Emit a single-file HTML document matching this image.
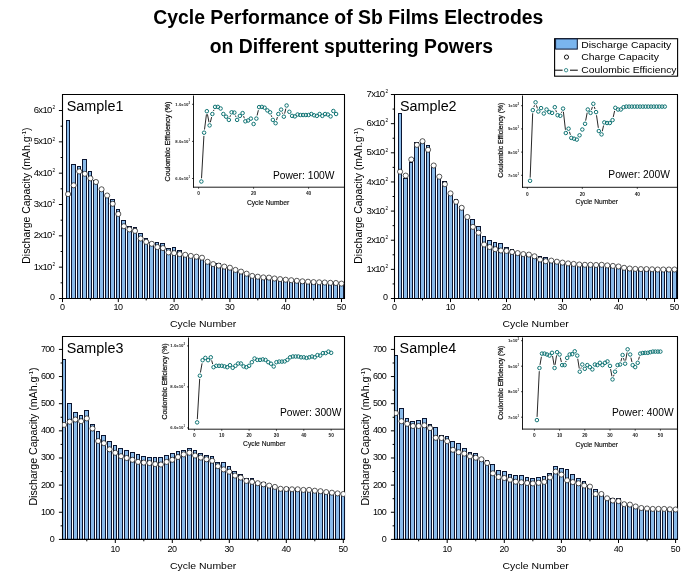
<!DOCTYPE html>
<html lang="en"><head><meta charset="utf-8"><title>Cycle Performance of Sb Films Electrodes</title>
<style>html,body{margin:0;padding:0;background:#fff}svg{display:block}text{font-family:'Liberation Sans', Arial, sans-serif}</style></head><body>
<svg width="698" height="579" viewBox="0 0 698 579">
<rect width="698" height="579" fill="#fff"/>
<text x="348.3" y="23.7" font-size="19.4" text-anchor="middle" font-weight="bold" fill="#000">Cycle Performance of Sb Films Electrodes</text>
<text x="351.4" y="52.6" font-size="19.4" text-anchor="middle" font-weight="bold" fill="#000">on Different sputtering Powers</text>
<rect x="554.6" y="38.7" width="123" height="37.5" fill="#fff" stroke="#000" stroke-width="1.1"/>
<rect x="555.6" y="38.9" width="21.7" height="10.2" fill="#7ab5ee" stroke="#0b1530" stroke-width="1"/>
<text x="581.3" y="47.8" font-size="9.9" text-anchor="start" font-weight="normal" fill="#000" textLength="90" lengthAdjust="spacingAndGlyphs">Discharge Capacity</text>
<text x="581.3" y="59.8" font-size="9.9" text-anchor="start" font-weight="normal" fill="#000" textLength="77.6" lengthAdjust="spacingAndGlyphs">Charge Capacity</text>
<text x="581.3" y="72.5" font-size="9.9" text-anchor="start" font-weight="normal" fill="#000" textLength="95.2" lengthAdjust="spacingAndGlyphs">Coulombic Efficiency</text>
<circle cx="566.5" cy="57.1" r="2.1" fill="#fff" stroke="#000" stroke-width="0.9"/>
<line x1="554.6" y1="70.2" x2="562.6" y2="70.2" stroke="#000" stroke-width="1.0"/>
<line x1="570" y1="70.2" x2="577.8" y2="70.2" stroke="#000" stroke-width="1.0"/>
<circle cx="566.1" cy="70.2" r="1.7" fill="#fff" stroke="#0e7373" stroke-width="0.8"/>
<clipPath id="clip1"><rect x="62.5" y="94.5" width="282.6" height="204"/></clipPath>
<line x1="62" y1="94.5" x2="345" y2="94.5" stroke="#000" stroke-width="1.1"/>
<line x1="344.5" y1="94.5" x2="344.5" y2="299" stroke="#000" stroke-width="1.1"/>
<g clip-path="url(#clip1)" shape-rendering="crispEdges">
<path d="M66 120H70V298H66ZM71 164H76V298H71ZM77 166H81V298H77ZM82 159H87V298H82ZM88 171H92V298H88ZM93 180H98V298H93ZM99 188H104V298H99ZM105 194H109V298H105ZM110 199H115V298H110ZM116 209H120V298H116ZM121 220H126V298H121ZM127 226H132V298H127ZM133 227H137V298H133ZM138 233H143V298H138ZM144 238H148V298H144ZM149 242H154V298H149ZM155 242H159V298H155ZM160 243H165V298H160ZM166 248H171V298H166ZM172 247H176V298H172ZM177 250H182V298H177ZM183 254H187V298H183ZM188 255H193V298H188ZM194 256H199V298H194ZM200 257H204V298H200ZM205 261H210V298H205ZM211 264H215V298H211ZM216 263H221V298H216ZM222 266H226V298H222ZM227 267H232V298H227ZM233 269H238V298H233ZM239 271H243V298H239ZM244 273H249V298H244ZM250 275H254V298H250ZM255 276H260V298H255ZM261 277H265V298H261ZM266 277H271V298H266ZM272 278H277V298H272ZM278 279H282V298H278ZM283 279H288V298H283ZM289 280H293V298H289ZM294 280H299V298H294ZM300 281H305V298H300ZM306 281H310V298H306ZM311 282H316V298H311ZM317 282H321V298H317ZM322 282H327V298H322ZM328 282H332V298H328ZM333 282H338V298H333ZM339 283H344V298H339Z" fill="#0b1530"/>
<path d="M67 121H69V298H67ZM72 165H75V298H72ZM78 167H80V298H78ZM83 160H86V298H83ZM89 172H91V298H89ZM94 181H97V298H94ZM100 189H103V298H100ZM106 195H108V298H106ZM111 200H114V298H111ZM117 210H119V298H117ZM122 221H125V298H122ZM128 227H131V298H128ZM134 228H136V298H134ZM139 234H142V298H139ZM145 239H147V298H145ZM150 243H153V298H150ZM156 243H158V298H156ZM161 244H164V298H161ZM167 249H170V298H167ZM173 248H175V298H173ZM178 251H181V298H178ZM184 255H186V298H184ZM189 256H192V298H189ZM195 257H198V298H195ZM201 258H203V298H201ZM206 262H209V298H206ZM212 265H214V298H212ZM217 264H220V298H217ZM223 267H225V298H223ZM228 268H231V298H228ZM234 270H237V298H234ZM240 272H242V298H240ZM245 274H248V298H245ZM251 276H253V298H251ZM256 277H259V298H256ZM262 278H264V298H262ZM267 278H270V298H267ZM273 279H276V298H273ZM279 280H281V298H279ZM284 280H287V298H284ZM290 281H292V298H290ZM295 281H298V298H295ZM301 282H304V298H301ZM307 282H309V298H307ZM312 283H315V298H312ZM318 283H320V298H318ZM323 283H326V298H323ZM329 283H331V298H329ZM334 283H337V298H334ZM340 284H343V298H340Z" fill="#8abbea"/>
</g>
<line x1="62.5" y1="94" x2="62.5" y2="299" stroke="#000" stroke-width="1.1"/>
<line x1="62" y1="298.5" x2="345" y2="298.5" stroke="#000" stroke-width="1.1"/>
<g clip-path="url(#clip1)" fill="#fff" stroke="#000" stroke-width="0.65">
<circle cx="68.08" cy="194.1" r="2.55"/>
<circle cx="73.66" cy="185.3" r="2.55"/>
<circle cx="79.24" cy="171.4" r="2.55"/>
<circle cx="84.82" cy="173.8" r="2.55"/>
<circle cx="90.4" cy="178.3" r="2.55"/>
<circle cx="95.98" cy="182" r="2.55"/>
<circle cx="101.56" cy="189.3" r="2.55"/>
<circle cx="107.14" cy="195.5" r="2.55"/>
<circle cx="112.72" cy="203.8" r="2.55"/>
<circle cx="118.3" cy="214" r="2.55"/>
<circle cx="123.88" cy="226.2" r="2.55"/>
<circle cx="129.46" cy="229.4" r="2.55"/>
<circle cx="135.04" cy="230.9" r="2.55"/>
<circle cx="140.62" cy="238.5" r="2.55"/>
<circle cx="146.2" cy="241.9" r="2.55"/>
<circle cx="151.78" cy="243.8" r="2.55"/>
<circle cx="157.36" cy="247.1" r="2.55"/>
<circle cx="162.94" cy="248.1" r="2.55"/>
<circle cx="168.52" cy="252.4" r="2.55"/>
<circle cx="174.1" cy="253.1" r="2.55"/>
<circle cx="179.68" cy="254.1" r="2.55"/>
<circle cx="185.26" cy="254.8" r="2.55"/>
<circle cx="190.84" cy="255.9" r="2.55"/>
<circle cx="196.42" cy="256.7" r="2.55"/>
<circle cx="202" cy="257.7" r="2.55"/>
<circle cx="207.58" cy="261.8" r="2.55"/>
<circle cx="213.16" cy="264.1" r="2.55"/>
<circle cx="218.74" cy="265.6" r="2.55"/>
<circle cx="224.32" cy="266.6" r="2.55"/>
<circle cx="229.9" cy="267.7" r="2.55"/>
<circle cx="235.48" cy="269.9" r="2.55"/>
<circle cx="241.06" cy="271.6" r="2.55"/>
<circle cx="246.64" cy="273.7" r="2.55"/>
<circle cx="252.22" cy="275.9" r="2.55"/>
<circle cx="257.8" cy="276.7" r="2.55"/>
<circle cx="263.38" cy="277.4" r="2.55"/>
<circle cx="268.96" cy="277.6" r="2.55"/>
<circle cx="274.54" cy="278.5" r="2.55"/>
<circle cx="280.12" cy="279.1" r="2.55"/>
<circle cx="285.7" cy="279.7" r="2.55"/>
<circle cx="291.28" cy="280.2" r="2.55"/>
<circle cx="296.86" cy="280.8" r="2.55"/>
<circle cx="302.44" cy="281.3" r="2.55"/>
<circle cx="308.02" cy="281.7" r="2.55"/>
<circle cx="313.6" cy="282.1" r="2.55"/>
<circle cx="319.18" cy="282.3" r="2.55"/>
<circle cx="324.76" cy="282.5" r="2.55"/>
<circle cx="330.34" cy="282.8" r="2.55"/>
<circle cx="335.92" cy="283" r="2.55"/>
<circle cx="341.5" cy="283.6" r="2.55"/>
</g>
<line x1="58.9" y1="298.5" x2="62.5" y2="298.5" stroke="#000" stroke-width="1.0"/>
<line x1="60.6" y1="282.83" x2="62.5" y2="282.83" stroke="#000" stroke-width="1.0"/>
<text x="55.1" y="299.7" font-size="9" text-anchor="end" font-weight="normal" fill="#000">0</text>
<line x1="58.9" y1="267.17" x2="62.5" y2="267.17" stroke="#000" stroke-width="1.0"/>
<line x1="60.6" y1="251.51" x2="62.5" y2="251.51" stroke="#000" stroke-width="1.0"/>
<text x="51.6" y="269.77" font-size="9.5" text-anchor="end" letter-spacing="-0.7">1x10</text>
<text x="52.6" y="265.87" font-size="4.8" text-anchor="start" font-weight="normal" fill="#000">2</text>
<line x1="58.9" y1="235.84" x2="62.5" y2="235.84" stroke="#000" stroke-width="1.0"/>
<line x1="60.6" y1="220.18" x2="62.5" y2="220.18" stroke="#000" stroke-width="1.0"/>
<text x="51.6" y="238.44" font-size="9.5" text-anchor="end" letter-spacing="-0.7">2x10</text>
<text x="52.6" y="234.54" font-size="4.8" text-anchor="start" font-weight="normal" fill="#000">2</text>
<line x1="58.9" y1="204.51" x2="62.5" y2="204.51" stroke="#000" stroke-width="1.0"/>
<line x1="60.6" y1="188.84" x2="62.5" y2="188.84" stroke="#000" stroke-width="1.0"/>
<text x="51.6" y="207.11" font-size="9.5" text-anchor="end" letter-spacing="-0.7">3x10</text>
<text x="52.6" y="203.21" font-size="4.8" text-anchor="start" font-weight="normal" fill="#000">2</text>
<line x1="58.9" y1="173.18" x2="62.5" y2="173.18" stroke="#000" stroke-width="1.0"/>
<line x1="60.6" y1="157.52" x2="62.5" y2="157.52" stroke="#000" stroke-width="1.0"/>
<text x="51.6" y="175.78" font-size="9.5" text-anchor="end" letter-spacing="-0.7">4x10</text>
<text x="52.6" y="171.88" font-size="4.8" text-anchor="start" font-weight="normal" fill="#000">2</text>
<line x1="58.9" y1="141.85" x2="62.5" y2="141.85" stroke="#000" stroke-width="1.0"/>
<line x1="60.6" y1="126.19" x2="62.5" y2="126.19" stroke="#000" stroke-width="1.0"/>
<text x="51.6" y="144.45" font-size="9.5" text-anchor="end" letter-spacing="-0.7">5x10</text>
<text x="52.6" y="140.55" font-size="4.8" text-anchor="start" font-weight="normal" fill="#000">2</text>
<line x1="58.9" y1="110.52" x2="62.5" y2="110.52" stroke="#000" stroke-width="1.0"/>
<text x="51.6" y="113.12" font-size="9.5" text-anchor="end" letter-spacing="-0.7">6x10</text>
<text x="52.6" y="109.22" font-size="4.8" text-anchor="start" font-weight="normal" fill="#000">2</text>
<line x1="62.5" y1="298.5" x2="62.5" y2="302.1" stroke="#000" stroke-width="1.0"/>
<text x="62.3" y="310.3" font-size="9" text-anchor="middle" font-weight="normal" fill="#000" letter-spacing="-0.4">0</text>
<line x1="90.4" y1="298.5" x2="90.4" y2="300.4" stroke="#000" stroke-width="1.0"/>
<line x1="118.3" y1="298.5" x2="118.3" y2="302.1" stroke="#000" stroke-width="1.0"/>
<text x="118.1" y="310.3" font-size="9" text-anchor="middle" font-weight="normal" fill="#000" letter-spacing="-0.4">10</text>
<line x1="146.2" y1="298.5" x2="146.2" y2="300.4" stroke="#000" stroke-width="1.0"/>
<line x1="174.1" y1="298.5" x2="174.1" y2="302.1" stroke="#000" stroke-width="1.0"/>
<text x="173.9" y="310.3" font-size="9" text-anchor="middle" font-weight="normal" fill="#000" letter-spacing="-0.4">20</text>
<line x1="202" y1="298.5" x2="202" y2="300.4" stroke="#000" stroke-width="1.0"/>
<line x1="229.9" y1="298.5" x2="229.9" y2="302.1" stroke="#000" stroke-width="1.0"/>
<text x="229.7" y="310.3" font-size="9" text-anchor="middle" font-weight="normal" fill="#000" letter-spacing="-0.4">30</text>
<line x1="257.8" y1="298.5" x2="257.8" y2="300.4" stroke="#000" stroke-width="1.0"/>
<line x1="285.7" y1="298.5" x2="285.7" y2="302.1" stroke="#000" stroke-width="1.0"/>
<text x="285.5" y="310.3" font-size="9" text-anchor="middle" font-weight="normal" fill="#000" letter-spacing="-0.4">40</text>
<line x1="313.6" y1="298.5" x2="313.6" y2="300.4" stroke="#000" stroke-width="1.0"/>
<line x1="341.5" y1="298.5" x2="341.5" y2="302.1" stroke="#000" stroke-width="1.0"/>
<text x="341.3" y="310.3" font-size="9" text-anchor="middle" font-weight="normal" fill="#000" letter-spacing="-0.4">50</text>
<text x="170" y="327" font-size="9.8" text-anchor="start" font-weight="normal" fill="#000" textLength="66.2" lengthAdjust="spacingAndGlyphs">Cycle Number</text>
<text transform="translate(30.2,195.6) rotate(-90) scale(1.047,1)" font-size="10" text-anchor="middle">Discharge Capacity (mAh.g<tspan font-size="6" dy="-3.8">-1</tspan><tspan dy="3.8">)</tspan></text>
<text x="66.8" y="110.9" font-size="14.0" text-anchor="start" font-weight="normal" fill="#000" textLength="56.6" lengthAdjust="spacingAndGlyphs">Sample1</text>
<clipPath id="clip2"><rect x="394.5" y="94.5" width="283.6" height="204"/></clipPath>
<line x1="394" y1="94.5" x2="678" y2="94.5" stroke="#000" stroke-width="1.1"/>
<line x1="677.5" y1="94.5" x2="677.5" y2="299" stroke="#000" stroke-width="1.1"/>
<g clip-path="url(#clip2)" shape-rendering="crispEdges">
<path d="M398 113H402V298H398ZM403 178H408V298H403ZM409 162H413V298H409ZM414 142H419V298H414ZM420 141H425V298H420ZM426 145H430V298H426ZM431 167H436V298H431ZM437 178H441V298H437ZM442 181H447V298H442ZM448 193H453V298H448ZM454 199H458V298H454ZM459 206H464V298H459ZM465 216H469V298H465ZM470 219H475V298H470ZM476 226H481V298H476ZM482 236H486V298H482ZM487 240H492V298H487ZM493 242H497V298H493ZM498 243H503V298H498ZM504 247H509V298H504ZM510 249H514V298H510ZM515 252H520V298H515ZM521 253H525V298H521ZM526 254H531V298H526ZM532 255H537V298H532ZM538 256H542V298H538ZM543 257H548V298H543ZM549 260H553V298H549ZM554 261H559V298H554ZM560 262H565V298H560ZM566 263H570V298H566ZM571 263H576V298H571ZM577 264H581V298H577ZM582 264H587V298H582ZM588 264H593V298H588ZM594 264H598V298H594ZM599 264H604V298H599ZM605 265H609V298H605ZM610 265H615V298H610ZM616 266H621V298H616ZM622 267H626V298H622ZM627 268H632V298H627ZM633 268H637V298H633ZM638 269H643V298H638ZM644 269H649V298H644ZM650 269H654V298H650ZM655 269H660V298H655ZM661 269H665V298H661ZM666 269H671V298H666ZM672 269H677V298H672Z" fill="#0b1530"/>
<path d="M399 114H401V298H399ZM404 179H407V298H404ZM410 163H412V298H410ZM415 143H418V298H415ZM421 142H424V298H421ZM427 146H429V298H427ZM432 168H435V298H432ZM438 179H440V298H438ZM443 182H446V298H443ZM449 194H452V298H449ZM455 200H457V298H455ZM460 207H463V298H460ZM466 217H468V298H466ZM471 220H474V298H471ZM477 227H480V298H477ZM483 237H485V298H483ZM488 241H491V298H488ZM494 243H496V298H494ZM499 244H502V298H499ZM505 248H508V298H505ZM511 250H513V298H511ZM516 253H519V298H516ZM522 254H524V298H522ZM527 255H530V298H527ZM533 256H536V298H533ZM539 257H541V298H539ZM544 258H547V298H544ZM550 261H552V298H550ZM555 262H558V298H555ZM561 263H564V298H561ZM567 264H569V298H567ZM572 264H575V298H572ZM578 265H580V298H578ZM583 265H586V298H583ZM589 265H592V298H589ZM595 265H597V298H595ZM600 265H603V298H600ZM606 266H608V298H606ZM611 266H614V298H611ZM617 267H620V298H617ZM623 268H625V298H623ZM628 269H631V298H628ZM634 269H636V298H634ZM639 270H642V298H639ZM645 270H648V298H645ZM651 270H653V298H651ZM656 270H659V298H656ZM662 270H664V298H662ZM667 270H670V298H667ZM673 270H676V298H673Z" fill="#8abbea"/>
</g>
<line x1="394.5" y1="94" x2="394.5" y2="299" stroke="#000" stroke-width="1.1"/>
<line x1="394" y1="298.5" x2="678" y2="298.5" stroke="#000" stroke-width="1.1"/>
<g clip-path="url(#clip2)" fill="#fff" stroke="#000" stroke-width="0.65">
<circle cx="400.1" cy="171.7" r="2.55"/>
<circle cx="405.7" cy="175.6" r="2.55"/>
<circle cx="411.3" cy="159.5" r="2.55"/>
<circle cx="416.9" cy="144.9" r="2.55"/>
<circle cx="422.5" cy="141.2" r="2.55"/>
<circle cx="428.1" cy="149.8" r="2.55"/>
<circle cx="433.7" cy="165.5" r="2.55"/>
<circle cx="439.3" cy="176.7" r="2.55"/>
<circle cx="444.9" cy="184.2" r="2.55"/>
<circle cx="450.5" cy="193.4" r="2.55"/>
<circle cx="456.1" cy="201.8" r="2.55"/>
<circle cx="461.7" cy="207.8" r="2.55"/>
<circle cx="467.3" cy="217" r="2.55"/>
<circle cx="472.9" cy="226.9" r="2.55"/>
<circle cx="478.5" cy="232.7" r="2.55"/>
<circle cx="484.1" cy="244.5" r="2.55"/>
<circle cx="489.7" cy="247" r="2.55"/>
<circle cx="495.3" cy="249.2" r="2.55"/>
<circle cx="500.9" cy="250.5" r="2.55"/>
<circle cx="506.5" cy="250.9" r="2.55"/>
<circle cx="512.1" cy="252" r="2.55"/>
<circle cx="517.7" cy="253.1" r="2.55"/>
<circle cx="523.3" cy="254.1" r="2.55"/>
<circle cx="528.9" cy="254.6" r="2.55"/>
<circle cx="534.5" cy="256.3" r="2.55"/>
<circle cx="540.1" cy="259.5" r="2.55"/>
<circle cx="545.7" cy="261.2" r="2.55"/>
<circle cx="551.3" cy="260.6" r="2.55"/>
<circle cx="556.9" cy="261.7" r="2.55"/>
<circle cx="562.5" cy="262.6" r="2.55"/>
<circle cx="568.1" cy="263.4" r="2.55"/>
<circle cx="573.7" cy="263.9" r="2.55"/>
<circle cx="579.3" cy="264.5" r="2.55"/>
<circle cx="584.9" cy="264.8" r="2.55"/>
<circle cx="590.5" cy="264.8" r="2.55"/>
<circle cx="596.1" cy="265" r="2.55"/>
<circle cx="601.7" cy="264.8" r="2.55"/>
<circle cx="607.3" cy="265.4" r="2.55"/>
<circle cx="612.9" cy="265.9" r="2.55"/>
<circle cx="618.5" cy="266.5" r="2.55"/>
<circle cx="624.1" cy="267.8" r="2.55"/>
<circle cx="629.7" cy="268.5" r="2.55"/>
<circle cx="635.3" cy="268.9" r="2.55"/>
<circle cx="640.9" cy="269.1" r="2.55"/>
<circle cx="646.5" cy="269.1" r="2.55"/>
<circle cx="652.1" cy="269.3" r="2.55"/>
<circle cx="657.7" cy="269.5" r="2.55"/>
<circle cx="663.3" cy="269.5" r="2.55"/>
<circle cx="668.9" cy="269.5" r="2.55"/>
<circle cx="674.5" cy="269.5" r="2.55"/>
</g>
<line x1="390.9" y1="298.5" x2="394.5" y2="298.5" stroke="#000" stroke-width="1.0"/>
<line x1="392.6" y1="283.93" x2="394.5" y2="283.93" stroke="#000" stroke-width="1.0"/>
<text x="387.9" y="299.7" font-size="9" text-anchor="end" font-weight="normal" fill="#000">0</text>
<line x1="390.9" y1="269.36" x2="394.5" y2="269.36" stroke="#000" stroke-width="1.0"/>
<line x1="392.6" y1="254.79" x2="394.5" y2="254.79" stroke="#000" stroke-width="1.0"/>
<text x="384.4" y="271.96" font-size="9.5" text-anchor="end" letter-spacing="-0.7">1x10</text>
<text x="385.4" y="268.06" font-size="4.8" text-anchor="start" font-weight="normal" fill="#000">2</text>
<line x1="390.9" y1="240.22" x2="394.5" y2="240.22" stroke="#000" stroke-width="1.0"/>
<line x1="392.6" y1="225.65" x2="394.5" y2="225.65" stroke="#000" stroke-width="1.0"/>
<text x="384.4" y="242.82" font-size="9.5" text-anchor="end" letter-spacing="-0.7">2x10</text>
<text x="385.4" y="238.92" font-size="4.8" text-anchor="start" font-weight="normal" fill="#000">2</text>
<line x1="390.9" y1="211.08" x2="394.5" y2="211.08" stroke="#000" stroke-width="1.0"/>
<line x1="392.6" y1="196.51" x2="394.5" y2="196.51" stroke="#000" stroke-width="1.0"/>
<text x="384.4" y="213.68" font-size="9.5" text-anchor="end" letter-spacing="-0.7">3x10</text>
<text x="385.4" y="209.78" font-size="4.8" text-anchor="start" font-weight="normal" fill="#000">2</text>
<line x1="390.9" y1="181.94" x2="394.5" y2="181.94" stroke="#000" stroke-width="1.0"/>
<line x1="392.6" y1="167.37" x2="394.5" y2="167.37" stroke="#000" stroke-width="1.0"/>
<text x="384.4" y="184.54" font-size="9.5" text-anchor="end" letter-spacing="-0.7">4x10</text>
<text x="385.4" y="180.64" font-size="4.8" text-anchor="start" font-weight="normal" fill="#000">2</text>
<line x1="390.9" y1="152.8" x2="394.5" y2="152.8" stroke="#000" stroke-width="1.0"/>
<line x1="392.6" y1="138.23" x2="394.5" y2="138.23" stroke="#000" stroke-width="1.0"/>
<text x="384.4" y="155.4" font-size="9.5" text-anchor="end" letter-spacing="-0.7">5x10</text>
<text x="385.4" y="151.5" font-size="4.8" text-anchor="start" font-weight="normal" fill="#000">2</text>
<line x1="390.9" y1="123.66" x2="394.5" y2="123.66" stroke="#000" stroke-width="1.0"/>
<line x1="392.6" y1="109.09" x2="394.5" y2="109.09" stroke="#000" stroke-width="1.0"/>
<text x="384.4" y="126.26" font-size="9.5" text-anchor="end" letter-spacing="-0.7">6x10</text>
<text x="385.4" y="122.36" font-size="4.8" text-anchor="start" font-weight="normal" fill="#000">2</text>
<line x1="390.9" y1="94.52" x2="394.5" y2="94.52" stroke="#000" stroke-width="1.0"/>
<text x="384.4" y="97.12" font-size="9.5" text-anchor="end" letter-spacing="-0.7">7x10</text>
<text x="385.4" y="93.22" font-size="4.8" text-anchor="start" font-weight="normal" fill="#000">2</text>
<line x1="394.5" y1="298.5" x2="394.5" y2="302.1" stroke="#000" stroke-width="1.0"/>
<text x="394.3" y="310.3" font-size="9" text-anchor="middle" font-weight="normal" fill="#000" letter-spacing="-0.4">0</text>
<line x1="422.5" y1="298.5" x2="422.5" y2="300.4" stroke="#000" stroke-width="1.0"/>
<line x1="450.5" y1="298.5" x2="450.5" y2="302.1" stroke="#000" stroke-width="1.0"/>
<text x="450.3" y="310.3" font-size="9" text-anchor="middle" font-weight="normal" fill="#000" letter-spacing="-0.4">10</text>
<line x1="478.5" y1="298.5" x2="478.5" y2="300.4" stroke="#000" stroke-width="1.0"/>
<line x1="506.5" y1="298.5" x2="506.5" y2="302.1" stroke="#000" stroke-width="1.0"/>
<text x="506.3" y="310.3" font-size="9" text-anchor="middle" font-weight="normal" fill="#000" letter-spacing="-0.4">20</text>
<line x1="534.5" y1="298.5" x2="534.5" y2="300.4" stroke="#000" stroke-width="1.0"/>
<line x1="562.5" y1="298.5" x2="562.5" y2="302.1" stroke="#000" stroke-width="1.0"/>
<text x="562.3" y="310.3" font-size="9" text-anchor="middle" font-weight="normal" fill="#000" letter-spacing="-0.4">30</text>
<line x1="590.5" y1="298.5" x2="590.5" y2="300.4" stroke="#000" stroke-width="1.0"/>
<line x1="618.5" y1="298.5" x2="618.5" y2="302.1" stroke="#000" stroke-width="1.0"/>
<text x="618.3" y="310.3" font-size="9" text-anchor="middle" font-weight="normal" fill="#000" letter-spacing="-0.4">40</text>
<line x1="646.5" y1="298.5" x2="646.5" y2="300.4" stroke="#000" stroke-width="1.0"/>
<line x1="674.5" y1="298.5" x2="674.5" y2="302.1" stroke="#000" stroke-width="1.0"/>
<text x="674.3" y="310.3" font-size="9" text-anchor="middle" font-weight="normal" fill="#000" letter-spacing="-0.4">50</text>
<text x="502.5" y="327" font-size="9.8" text-anchor="start" font-weight="normal" fill="#000" textLength="66.2" lengthAdjust="spacingAndGlyphs">Cycle Number</text>
<text transform="translate(362.2,195.6) rotate(-90) scale(1.047,1)" font-size="10" text-anchor="middle">Discharge Capacity (mAh.g<tspan font-size="6" dy="-3.8">-1</tspan><tspan dy="3.8">)</tspan></text>
<text x="400" y="110.9" font-size="14.0" text-anchor="start" font-weight="normal" fill="#000" textLength="56.6" lengthAdjust="spacingAndGlyphs">Sample2</text>
<clipPath id="clip3"><rect x="62.5" y="336.5" width="282.6" height="202.9"/></clipPath>
<line x1="62" y1="336.5" x2="345" y2="336.5" stroke="#000" stroke-width="1.1"/>
<line x1="344.5" y1="336.5" x2="344.5" y2="539.9" stroke="#000" stroke-width="1.1"/>
<g clip-path="url(#clip3)" shape-rendering="crispEdges">
<path d="M62 359H66V539H62ZM67 403H72V539H67ZM73 412H78V539H73ZM79 415H83V539H79ZM84 410H89V539H84ZM90 424H95V539H90ZM96 431H100V539H96ZM101 435H106V539H101ZM107 441H112V539H107ZM113 445H117V539H113ZM118 448H123V539H118ZM124 450H129V539H124ZM130 452H135V539H130ZM136 454H140V539H136ZM141 456H146V539H141ZM147 457H152V539H147ZM153 457H157V539H153ZM158 457H163V539H158ZM164 455H169V539H164ZM170 453H175V539H170ZM176 451H180V539H176ZM181 450H186V539H181ZM187 448H192V539H187ZM193 450H197V539H193ZM198 453H203V539H198ZM204 455H209V539H204ZM210 456H214V539H210ZM215 462H220V539H215ZM221 462H226V539H221ZM227 466H231V539H227ZM232 471H237V539H232ZM238 474H243V539H238ZM244 478H249V539H244ZM250 478H254V539H250ZM255 482H260V539H255ZM261 482H266V539H261ZM267 484H271V539H267ZM272 486H277V539H272ZM278 488H283V539H278ZM284 487H289V539H284ZM290 488H294V539H290ZM295 488H300V539H295ZM301 489H306V539H301ZM307 488H311V539H307ZM312 490H317V539H312ZM318 490H323V539H318ZM324 491H328V539H324ZM329 492H334V539H329ZM335 492H340V539H335ZM341 493H345V539H341Z" fill="#0b1530"/>
<path d="M63 360H65V539H63ZM68 404H71V539H68ZM74 413H77V539H74ZM80 416H82V539H80ZM85 411H88V539H85ZM91 425H94V539H91ZM97 432H99V539H97ZM102 436H105V539H102ZM108 442H111V539H108ZM114 446H116V539H114ZM119 449H122V539H119ZM125 451H128V539H125ZM131 453H134V539H131ZM137 455H139V539H137ZM142 457H145V539H142ZM148 458H151V539H148ZM154 458H156V539H154ZM159 458H162V539H159ZM165 456H168V539H165ZM171 454H174V539H171ZM177 452H179V539H177ZM182 451H185V539H182ZM188 449H191V539H188ZM194 451H196V539H194ZM199 454H202V539H199ZM205 456H208V539H205ZM211 457H213V539H211ZM216 463H219V539H216ZM222 463H225V539H222ZM228 467H230V539H228ZM233 472H236V539H233ZM239 475H242V539H239ZM245 479H248V539H245ZM251 479H253V539H251ZM256 483H259V539H256ZM262 483H265V539H262ZM268 485H270V539H268ZM273 487H276V539H273ZM279 489H282V539H279ZM285 488H288V539H285ZM291 489H293V539H291ZM296 489H299V539H296ZM302 490H305V539H302ZM308 489H310V539H308ZM313 491H316V539H313ZM319 491H322V539H319ZM325 492H327V539H325ZM330 493H333V539H330ZM336 493H339V539H336ZM342 494H344V539H342Z" fill="#8abbea"/>
</g>
<line x1="62.5" y1="336" x2="62.5" y2="539.9" stroke="#000" stroke-width="1.1"/>
<line x1="62" y1="539.4" x2="345" y2="539.4" stroke="#000" stroke-width="1.1"/>
<g clip-path="url(#clip3)" fill="#fff" stroke="#000" stroke-width="0.65">
<circle cx="64" cy="424.9" r="2.55"/>
<circle cx="69.7" cy="421.7" r="2.55"/>
<circle cx="75.4" cy="419.5" r="2.55"/>
<circle cx="81.1" cy="421.2" r="2.55"/>
<circle cx="86.8" cy="418.4" r="2.55"/>
<circle cx="92.5" cy="428.5" r="2.55"/>
<circle cx="98.2" cy="441" r="2.55"/>
<circle cx="103.9" cy="443.2" r="2.55"/>
<circle cx="109.6" cy="449.3" r="2.55"/>
<circle cx="115.3" cy="452.8" r="2.55"/>
<circle cx="121" cy="456.2" r="2.55"/>
<circle cx="126.7" cy="458" r="2.55"/>
<circle cx="132.4" cy="459.8" r="2.55"/>
<circle cx="138.1" cy="461.9" r="2.55"/>
<circle cx="143.8" cy="462.6" r="2.55"/>
<circle cx="149.5" cy="463" r="2.55"/>
<circle cx="155.2" cy="464.1" r="2.55"/>
<circle cx="160.9" cy="464.5" r="2.55"/>
<circle cx="166.6" cy="461.9" r="2.55"/>
<circle cx="172.3" cy="459.8" r="2.55"/>
<circle cx="178" cy="457" r="2.55"/>
<circle cx="183.7" cy="454.4" r="2.55"/>
<circle cx="189.4" cy="452.7" r="2.55"/>
<circle cx="195.1" cy="455.5" r="2.55"/>
<circle cx="200.8" cy="457.6" r="2.55"/>
<circle cx="206.5" cy="459.3" r="2.55"/>
<circle cx="212.2" cy="460.8" r="2.55"/>
<circle cx="217.9" cy="466.2" r="2.55"/>
<circle cx="223.6" cy="469.4" r="2.55"/>
<circle cx="229.3" cy="471.7" r="2.55"/>
<circle cx="235" cy="475.6" r="2.55"/>
<circle cx="240.7" cy="477.6" r="2.55"/>
<circle cx="246.4" cy="480.9" r="2.55"/>
<circle cx="252.1" cy="481.9" r="2.55"/>
<circle cx="257.8" cy="483.2" r="2.55"/>
<circle cx="263.5" cy="484.3" r="2.55"/>
<circle cx="269.2" cy="485.6" r="2.55"/>
<circle cx="274.9" cy="486.9" r="2.55"/>
<circle cx="280.6" cy="488.8" r="2.55"/>
<circle cx="286.3" cy="489" r="2.55"/>
<circle cx="292" cy="489.3" r="2.55"/>
<circle cx="297.7" cy="489.3" r="2.55"/>
<circle cx="303.4" cy="489.9" r="2.55"/>
<circle cx="309.1" cy="489.9" r="2.55"/>
<circle cx="314.8" cy="490.7" r="2.55"/>
<circle cx="320.5" cy="491.2" r="2.55"/>
<circle cx="326.2" cy="492.1" r="2.55"/>
<circle cx="331.9" cy="492.7" r="2.55"/>
<circle cx="337.6" cy="493.4" r="2.55"/>
<circle cx="343.3" cy="494" r="2.55"/>
</g>
<line x1="58.9" y1="539.4" x2="62.5" y2="539.4" stroke="#000" stroke-width="1.0"/>
<line x1="60.6" y1="525.83" x2="62.5" y2="525.83" stroke="#000" stroke-width="1.0"/>
<text x="54.1" y="541.8" font-size="9" text-anchor="end" font-weight="normal" fill="#000" letter-spacing="-0.65">0</text>
<line x1="58.9" y1="512.26" x2="62.5" y2="512.26" stroke="#000" stroke-width="1.0"/>
<line x1="60.6" y1="498.69" x2="62.5" y2="498.69" stroke="#000" stroke-width="1.0"/>
<text x="54.1" y="514.66" font-size="9" text-anchor="end" font-weight="normal" fill="#000" letter-spacing="-0.65">100</text>
<line x1="58.9" y1="485.12" x2="62.5" y2="485.12" stroke="#000" stroke-width="1.0"/>
<line x1="60.6" y1="471.55" x2="62.5" y2="471.55" stroke="#000" stroke-width="1.0"/>
<text x="54.1" y="487.52" font-size="9" text-anchor="end" font-weight="normal" fill="#000" letter-spacing="-0.65">200</text>
<line x1="58.9" y1="457.98" x2="62.5" y2="457.98" stroke="#000" stroke-width="1.0"/>
<line x1="60.6" y1="444.41" x2="62.5" y2="444.41" stroke="#000" stroke-width="1.0"/>
<text x="54.1" y="460.38" font-size="9" text-anchor="end" font-weight="normal" fill="#000" letter-spacing="-0.65">300</text>
<line x1="58.9" y1="430.84" x2="62.5" y2="430.84" stroke="#000" stroke-width="1.0"/>
<line x1="60.6" y1="417.27" x2="62.5" y2="417.27" stroke="#000" stroke-width="1.0"/>
<text x="54.1" y="433.24" font-size="9" text-anchor="end" font-weight="normal" fill="#000" letter-spacing="-0.65">400</text>
<line x1="58.9" y1="403.7" x2="62.5" y2="403.7" stroke="#000" stroke-width="1.0"/>
<line x1="60.6" y1="390.13" x2="62.5" y2="390.13" stroke="#000" stroke-width="1.0"/>
<text x="54.1" y="406.1" font-size="9" text-anchor="end" font-weight="normal" fill="#000" letter-spacing="-0.65">500</text>
<line x1="58.9" y1="376.56" x2="62.5" y2="376.56" stroke="#000" stroke-width="1.0"/>
<line x1="60.6" y1="362.99" x2="62.5" y2="362.99" stroke="#000" stroke-width="1.0"/>
<text x="54.1" y="378.96" font-size="9" text-anchor="end" font-weight="normal" fill="#000" letter-spacing="-0.65">600</text>
<line x1="58.9" y1="349.42" x2="62.5" y2="349.42" stroke="#000" stroke-width="1.0"/>
<text x="54.1" y="351.82" font-size="9" text-anchor="end" font-weight="normal" fill="#000" letter-spacing="-0.65">700</text>
<line x1="86.8" y1="539.4" x2="86.8" y2="541.3" stroke="#000" stroke-width="1.0"/>
<line x1="115.3" y1="539.4" x2="115.3" y2="543" stroke="#000" stroke-width="1.0"/>
<text x="115.1" y="552.4" font-size="9" text-anchor="middle" font-weight="normal" fill="#000" letter-spacing="-0.4">10</text>
<line x1="143.8" y1="539.4" x2="143.8" y2="541.3" stroke="#000" stroke-width="1.0"/>
<line x1="172.3" y1="539.4" x2="172.3" y2="543" stroke="#000" stroke-width="1.0"/>
<text x="172.1" y="552.4" font-size="9" text-anchor="middle" font-weight="normal" fill="#000" letter-spacing="-0.4">20</text>
<line x1="200.8" y1="539.4" x2="200.8" y2="541.3" stroke="#000" stroke-width="1.0"/>
<line x1="229.3" y1="539.4" x2="229.3" y2="543" stroke="#000" stroke-width="1.0"/>
<text x="229.1" y="552.4" font-size="9" text-anchor="middle" font-weight="normal" fill="#000" letter-spacing="-0.4">30</text>
<line x1="257.8" y1="539.4" x2="257.8" y2="541.3" stroke="#000" stroke-width="1.0"/>
<line x1="286.3" y1="539.4" x2="286.3" y2="543" stroke="#000" stroke-width="1.0"/>
<text x="286.1" y="552.4" font-size="9" text-anchor="middle" font-weight="normal" fill="#000" letter-spacing="-0.4">40</text>
<line x1="314.8" y1="539.4" x2="314.8" y2="541.3" stroke="#000" stroke-width="1.0"/>
<line x1="343.3" y1="539.4" x2="343.3" y2="543" stroke="#000" stroke-width="1.0"/>
<text x="343.1" y="552.4" font-size="9" text-anchor="middle" font-weight="normal" fill="#000" letter-spacing="-0.4">50</text>
<text x="170" y="568.7" font-size="9.8" text-anchor="start" font-weight="normal" fill="#000" textLength="66.2" lengthAdjust="spacingAndGlyphs">Cycle Number</text>
<text transform="translate(36.8,436.5) rotate(-90) scale(1.0615,1)" font-size="10" text-anchor="middle">Discharge Capacity (mAh.g<tspan font-size="6" dy="-3.8">-1</tspan><tspan dy="3.8">)</tspan></text>
<text x="66.8" y="352.9" font-size="14.0" text-anchor="start" font-weight="normal" fill="#000" textLength="56.6" lengthAdjust="spacingAndGlyphs">Sample3</text>
<clipPath id="clip4"><rect x="394.5" y="336.5" width="283.6" height="202.9"/></clipPath>
<line x1="394" y1="336.5" x2="678" y2="336.5" stroke="#000" stroke-width="1.1"/>
<line x1="677.5" y1="336.5" x2="677.5" y2="539.9" stroke="#000" stroke-width="1.1"/>
<g clip-path="url(#clip4)" shape-rendering="crispEdges">
<path d="M393 355H398V539H393ZM399 408H404V539H399ZM405 418H409V539H405ZM410 421H415V539H410ZM416 420H421V539H416ZM422 418H427V539H422ZM428 424H432V539H428ZM433 427H438V539H433ZM439 435H444V539H439ZM445 436H449V539H445ZM450 441H455V539H450ZM456 443H461V539H456ZM462 448H467V539H462ZM468 452H472V539H468ZM473 453H478V539H473ZM479 458H484V539H479ZM485 460H489V539H485ZM490 464H495V539H490ZM496 470H501V539H496ZM502 471H507V539H502ZM508 474H512V539H508ZM513 475H518V539H513ZM519 475H524V539H519ZM525 477H529V539H525ZM530 478H535V539H530ZM536 477H541V539H536ZM542 476H546V539H542ZM547 473H552V539H547ZM553 466H558V539H553ZM559 468H564V539H559ZM565 469H569V539H565ZM570 474H575V539H570ZM576 478H581V539H576ZM582 481H586V539H582ZM587 485H592V539H587ZM593 489H598V539H593ZM599 494H604V539H599ZM605 497H609V539H605ZM610 498H615V539H610ZM616 498H621V539H616ZM622 502H626V539H622ZM627 504H632V539H627ZM633 506H638V539H633ZM639 507H644V539H639ZM645 508H649V539H645ZM650 508H655V539H650ZM656 508H661V539H656ZM662 508H666V539H662ZM667 509H672V539H667ZM673 509H678V539H673Z" fill="#0b1530"/>
<path d="M394 356H397V539H394ZM400 409H403V539H400ZM406 419H408V539H406ZM411 422H414V539H411ZM417 421H420V539H417ZM423 419H426V539H423ZM429 425H431V539H429ZM434 428H437V539H434ZM440 436H443V539H440ZM446 437H448V539H446ZM451 442H454V539H451ZM457 444H460V539H457ZM463 449H466V539H463ZM469 453H471V539H469ZM474 454H477V539H474ZM480 459H483V539H480ZM486 461H488V539H486ZM491 465H494V539H491ZM497 471H500V539H497ZM503 472H506V539H503ZM509 475H511V539H509ZM514 476H517V539H514ZM520 476H523V539H520ZM526 478H528V539H526ZM531 479H534V539H531ZM537 478H540V539H537ZM543 477H545V539H543ZM548 474H551V539H548ZM554 467H557V539H554ZM560 469H563V539H560ZM566 470H568V539H566ZM571 475H574V539H571ZM577 479H580V539H577ZM583 482H585V539H583ZM588 486H591V539H588ZM594 490H597V539H594ZM600 495H603V539H600ZM606 498H608V539H606ZM611 499H614V539H611ZM617 499H620V539H617ZM623 503H625V539H623ZM628 505H631V539H628ZM634 507H637V539H634ZM640 508H643V539H640ZM646 509H648V539H646ZM651 509H654V539H651ZM657 509H660V539H657ZM663 509H665V539H663ZM668 510H671V539H668ZM674 510H677V539H674Z" fill="#8abbea"/>
</g>
<line x1="394.5" y1="336" x2="394.5" y2="539.9" stroke="#000" stroke-width="1.1"/>
<line x1="394" y1="539.4" x2="678" y2="539.4" stroke="#000" stroke-width="1.1"/>
<g clip-path="url(#clip4)" fill="#fff" stroke="#000" stroke-width="0.65">
<circle cx="395.81" cy="413.1" r="2.55"/>
<circle cx="401.52" cy="421.2" r="2.55"/>
<circle cx="407.23" cy="423.8" r="2.55"/>
<circle cx="412.94" cy="426" r="2.55"/>
<circle cx="418.65" cy="426" r="2.55"/>
<circle cx="424.36" cy="425.3" r="2.55"/>
<circle cx="430.07" cy="428.1" r="2.55"/>
<circle cx="435.78" cy="437.8" r="2.55"/>
<circle cx="441.49" cy="438" r="2.55"/>
<circle cx="447.2" cy="441.2" r="2.55"/>
<circle cx="452.91" cy="449.8" r="2.55"/>
<circle cx="458.62" cy="452.2" r="2.55"/>
<circle cx="464.33" cy="453.6" r="2.55"/>
<circle cx="470.04" cy="456.3" r="2.55"/>
<circle cx="475.75" cy="457.7" r="2.55"/>
<circle cx="481.46" cy="459.3" r="2.55"/>
<circle cx="487.17" cy="463" r="2.55"/>
<circle cx="492.88" cy="473.3" r="2.55"/>
<circle cx="498.59" cy="477" r="2.55"/>
<circle cx="504.3" cy="478" r="2.55"/>
<circle cx="510.01" cy="479.7" r="2.55"/>
<circle cx="515.72" cy="481.7" r="2.55"/>
<circle cx="521.43" cy="482.3" r="2.55"/>
<circle cx="527.14" cy="483" r="2.55"/>
<circle cx="532.85" cy="483.4" r="2.55"/>
<circle cx="538.56" cy="482.8" r="2.55"/>
<circle cx="544.27" cy="481.9" r="2.55"/>
<circle cx="549.98" cy="477.4" r="2.55"/>
<circle cx="555.69" cy="471.6" r="2.55"/>
<circle cx="561.4" cy="474.6" r="2.55"/>
<circle cx="567.11" cy="480.3" r="2.55"/>
<circle cx="572.82" cy="482.1" r="2.55"/>
<circle cx="578.53" cy="483.3" r="2.55"/>
<circle cx="584.24" cy="485.5" r="2.55"/>
<circle cx="589.95" cy="486.6" r="2.55"/>
<circle cx="595.66" cy="494" r="2.55"/>
<circle cx="601.37" cy="494" r="2.55"/>
<circle cx="607.08" cy="498.3" r="2.55"/>
<circle cx="612.79" cy="500.5" r="2.55"/>
<circle cx="618.5" cy="501.1" r="2.55"/>
<circle cx="624.21" cy="504.2" r="2.55"/>
<circle cx="629.92" cy="504.6" r="2.55"/>
<circle cx="635.63" cy="506.5" r="2.55"/>
<circle cx="641.34" cy="508" r="2.55"/>
<circle cx="647.05" cy="508.5" r="2.55"/>
<circle cx="652.76" cy="508.9" r="2.55"/>
<circle cx="658.47" cy="508.9" r="2.55"/>
<circle cx="664.18" cy="508.9" r="2.55"/>
<circle cx="669.89" cy="509.3" r="2.55"/>
<circle cx="675.6" cy="509.5" r="2.55"/>
</g>
<line x1="390.9" y1="539.4" x2="394.5" y2="539.4" stroke="#000" stroke-width="1.0"/>
<line x1="392.6" y1="525.83" x2="394.5" y2="525.83" stroke="#000" stroke-width="1.0"/>
<text x="386.1" y="541.8" font-size="9" text-anchor="end" font-weight="normal" fill="#000" letter-spacing="-0.65">0</text>
<line x1="390.9" y1="512.26" x2="394.5" y2="512.26" stroke="#000" stroke-width="1.0"/>
<line x1="392.6" y1="498.69" x2="394.5" y2="498.69" stroke="#000" stroke-width="1.0"/>
<text x="386.1" y="514.66" font-size="9" text-anchor="end" font-weight="normal" fill="#000" letter-spacing="-0.65">100</text>
<line x1="390.9" y1="485.12" x2="394.5" y2="485.12" stroke="#000" stroke-width="1.0"/>
<line x1="392.6" y1="471.55" x2="394.5" y2="471.55" stroke="#000" stroke-width="1.0"/>
<text x="386.1" y="487.52" font-size="9" text-anchor="end" font-weight="normal" fill="#000" letter-spacing="-0.65">200</text>
<line x1="390.9" y1="457.98" x2="394.5" y2="457.98" stroke="#000" stroke-width="1.0"/>
<line x1="392.6" y1="444.41" x2="394.5" y2="444.41" stroke="#000" stroke-width="1.0"/>
<text x="386.1" y="460.38" font-size="9" text-anchor="end" font-weight="normal" fill="#000" letter-spacing="-0.65">300</text>
<line x1="390.9" y1="430.84" x2="394.5" y2="430.84" stroke="#000" stroke-width="1.0"/>
<line x1="392.6" y1="417.27" x2="394.5" y2="417.27" stroke="#000" stroke-width="1.0"/>
<text x="386.1" y="433.24" font-size="9" text-anchor="end" font-weight="normal" fill="#000" letter-spacing="-0.65">400</text>
<line x1="390.9" y1="403.7" x2="394.5" y2="403.7" stroke="#000" stroke-width="1.0"/>
<line x1="392.6" y1="390.13" x2="394.5" y2="390.13" stroke="#000" stroke-width="1.0"/>
<text x="386.1" y="406.1" font-size="9" text-anchor="end" font-weight="normal" fill="#000" letter-spacing="-0.65">500</text>
<line x1="390.9" y1="376.56" x2="394.5" y2="376.56" stroke="#000" stroke-width="1.0"/>
<line x1="392.6" y1="362.99" x2="394.5" y2="362.99" stroke="#000" stroke-width="1.0"/>
<text x="386.1" y="378.96" font-size="9" text-anchor="end" font-weight="normal" fill="#000" letter-spacing="-0.65">600</text>
<line x1="390.9" y1="349.42" x2="394.5" y2="349.42" stroke="#000" stroke-width="1.0"/>
<text x="386.1" y="351.82" font-size="9" text-anchor="end" font-weight="normal" fill="#000" letter-spacing="-0.65">700</text>
<line x1="418.65" y1="539.4" x2="418.65" y2="541.3" stroke="#000" stroke-width="1.0"/>
<line x1="447.2" y1="539.4" x2="447.2" y2="543" stroke="#000" stroke-width="1.0"/>
<text x="447" y="552.4" font-size="9" text-anchor="middle" font-weight="normal" fill="#000" letter-spacing="-0.4">10</text>
<line x1="475.75" y1="539.4" x2="475.75" y2="541.3" stroke="#000" stroke-width="1.0"/>
<line x1="504.3" y1="539.4" x2="504.3" y2="543" stroke="#000" stroke-width="1.0"/>
<text x="504.1" y="552.4" font-size="9" text-anchor="middle" font-weight="normal" fill="#000" letter-spacing="-0.4">20</text>
<line x1="532.85" y1="539.4" x2="532.85" y2="541.3" stroke="#000" stroke-width="1.0"/>
<line x1="561.4" y1="539.4" x2="561.4" y2="543" stroke="#000" stroke-width="1.0"/>
<text x="561.2" y="552.4" font-size="9" text-anchor="middle" font-weight="normal" fill="#000" letter-spacing="-0.4">30</text>
<line x1="589.95" y1="539.4" x2="589.95" y2="541.3" stroke="#000" stroke-width="1.0"/>
<line x1="618.5" y1="539.4" x2="618.5" y2="543" stroke="#000" stroke-width="1.0"/>
<text x="618.3" y="552.4" font-size="9" text-anchor="middle" font-weight="normal" fill="#000" letter-spacing="-0.4">40</text>
<line x1="647.05" y1="539.4" x2="647.05" y2="541.3" stroke="#000" stroke-width="1.0"/>
<line x1="675.6" y1="539.4" x2="675.6" y2="543" stroke="#000" stroke-width="1.0"/>
<text x="675.4" y="552.4" font-size="9" text-anchor="middle" font-weight="normal" fill="#000" letter-spacing="-0.4">50</text>
<text x="502.5" y="568.7" font-size="9.8" text-anchor="start" font-weight="normal" fill="#000" textLength="66.2" lengthAdjust="spacingAndGlyphs">Cycle Number</text>
<text transform="translate(368.8,436.5) rotate(-90) scale(1.0615,1)" font-size="10" text-anchor="middle">Discharge Capacity (mAh.g<tspan font-size="6" dy="-3.8">-1</tspan><tspan dy="3.8">)</tspan></text>
<text x="399.6" y="352.9" font-size="14.0" text-anchor="start" font-weight="normal" fill="#000" textLength="56.6" lengthAdjust="spacingAndGlyphs">Sample4</text>
<line x1="193.5" y1="95.5" x2="193.5" y2="187.7" stroke="#000" stroke-width="0.9"/>
<line x1="193.1" y1="187.2" x2="344.5" y2="187.2" stroke="#000" stroke-width="0.9"/>
<path d="M201.53 178.31L203.92 135.89M204.51 129.53L206.44 114.37M207.46 114.34L208.99 122.26M210.35 122.29L211.6 117.11M213.51 111.02L213.94 109.88M229.94 116.89L230.51 115.31M235.48 115.59L235.97 116.91M243.62 116.13L244.33 118.27M257.09 115.49L258.36 110.21M271.19 115.31L271.76 116.89M276.52 120.13L277.43 117.07M282.26 112.58L282.69 113.72M284.61 113.59L285.84 108.61" fill="none" stroke="#000" stroke-width="0.85"/>
<g fill="none" stroke="#0e7373" stroke-width="1.0">
<circle cx="201.35" cy="181.5" r="1.75"/>
<circle cx="204.1" cy="132.7" r="1.75"/>
<circle cx="206.85" cy="111.2" r="1.75"/>
<circle cx="209.6" cy="125.4" r="1.75"/>
<circle cx="212.35" cy="114" r="1.75"/>
<circle cx="215.1" cy="106.9" r="1.75"/>
<circle cx="217.85" cy="106.9" r="1.75"/>
<circle cx="220.6" cy="108.5" r="1.75"/>
<circle cx="223.35" cy="114" r="1.75"/>
<circle cx="226.1" cy="116.7" r="1.75"/>
<circle cx="228.85" cy="119.9" r="1.75"/>
<circle cx="231.6" cy="112.3" r="1.75"/>
<circle cx="234.35" cy="112.6" r="1.75"/>
<circle cx="237.1" cy="119.9" r="1.75"/>
<circle cx="239.85" cy="115.9" r="1.75"/>
<circle cx="242.6" cy="113.1" r="1.75"/>
<circle cx="245.35" cy="121.3" r="1.75"/>
<circle cx="248.1" cy="120.5" r="1.75"/>
<circle cx="250.85" cy="118.6" r="1.75"/>
<circle cx="253.6" cy="124" r="1.75"/>
<circle cx="256.35" cy="118.6" r="1.75"/>
<circle cx="259.1" cy="107.1" r="1.75"/>
<circle cx="261.85" cy="106.9" r="1.75"/>
<circle cx="264.6" cy="107.7" r="1.75"/>
<circle cx="267.35" cy="110.4" r="1.75"/>
<circle cx="270.1" cy="112.3" r="1.75"/>
<circle cx="272.85" cy="119.9" r="1.75"/>
<circle cx="275.6" cy="123.2" r="1.75"/>
<circle cx="278.35" cy="114" r="1.75"/>
<circle cx="281.1" cy="109.6" r="1.75"/>
<circle cx="283.85" cy="116.7" r="1.75"/>
<circle cx="286.6" cy="105.5" r="1.75"/>
<circle cx="289.35" cy="111.8" r="1.75"/>
<circle cx="292.1" cy="115.9" r="1.75"/>
<circle cx="294.85" cy="116.4" r="1.75"/>
<circle cx="297.6" cy="114.5" r="1.75"/>
<circle cx="300.35" cy="115" r="1.75"/>
<circle cx="303.1" cy="115" r="1.75"/>
<circle cx="305.85" cy="115" r="1.75"/>
<circle cx="308.6" cy="115" r="1.75"/>
<circle cx="311.35" cy="114" r="1.75"/>
<circle cx="314.1" cy="115.3" r="1.75"/>
<circle cx="316.85" cy="115.9" r="1.75"/>
<circle cx="319.6" cy="114" r="1.75"/>
<circle cx="322.35" cy="115.9" r="1.75"/>
<circle cx="325.1" cy="114" r="1.75"/>
<circle cx="327.85" cy="114.5" r="1.75"/>
<circle cx="330.6" cy="116.4" r="1.75"/>
<circle cx="333.35" cy="111" r="1.75"/>
<circle cx="336.1" cy="114" r="1.75"/>
</g>
<line x1="192" y1="104.3" x2="193.5" y2="104.3" stroke="#000" stroke-width="0.7"/>
<text x="188.5" y="105.8" font-size="4.3" text-anchor="end" font-weight="bold" fill="#222">1.0x10</text>
<text x="188.6" y="103.7" font-size="2.8" font-weight="bold" fill="#222">2</text>
<line x1="192" y1="141.4" x2="193.5" y2="141.4" stroke="#000" stroke-width="0.7"/>
<text x="188.5" y="142.9" font-size="4.3" text-anchor="end" font-weight="bold" fill="#222">8.0x10</text>
<text x="188.6" y="140.8" font-size="2.8" font-weight="bold" fill="#222">1</text>
<line x1="192" y1="178.5" x2="193.5" y2="178.5" stroke="#000" stroke-width="0.7"/>
<text x="188.5" y="180" font-size="4.3" text-anchor="end" font-weight="bold" fill="#222">6.0x10</text>
<text x="188.6" y="177.9" font-size="2.8" font-weight="bold" fill="#222">1</text>
<line x1="198.6" y1="187.2" x2="198.6" y2="188.8" stroke="#000" stroke-width="0.7"/>
<text x="198.6" y="195.4" font-size="4.8" text-anchor="middle" font-weight="bold" fill="#222">0</text>
<line x1="253.6" y1="187.2" x2="253.6" y2="188.8" stroke="#000" stroke-width="0.7"/>
<text x="253.6" y="195.4" font-size="4.8" text-anchor="middle" font-weight="bold" fill="#222">20</text>
<line x1="308.6" y1="187.2" x2="308.6" y2="188.8" stroke="#000" stroke-width="0.7"/>
<text x="308.6" y="195.4" font-size="4.8" text-anchor="middle" font-weight="bold" fill="#222">40</text>
<text x="272.9" y="178.7" font-size="10.3" text-anchor="start" font-weight="normal" fill="#000" textLength="61.6" lengthAdjust="spacingAndGlyphs">Power: 100W</text>
<text x="268.1" y="204.6" font-size="6.7" text-anchor="middle" fill="#111" stroke="#111" stroke-width="0.15">Cycle Number</text>
<text transform="translate(170.3,181.5) rotate(-90)" font-size="6.3" textLength="80" lengthAdjust="spacingAndGlyphs" fill="#111" stroke="#111" stroke-width="0.22">Coulombic Efficiency (%)</text>
<line x1="522.5" y1="95.5" x2="522.5" y2="187.8" stroke="#000" stroke-width="0.9"/>
<line x1="522.1" y1="187.3" x2="677.5" y2="187.3" stroke="#000" stroke-width="0.9"/>
<path d="M530.17 177.6L532.68 113.3M533.86 107.08L534.49 105.32M536.47 105.37L537.38 108.43M555.84 110.23L556.51 112.17M561.44 112.81L561.91 111.59M563.41 111.78L565.44 129.82M569.47 131.77L570.38 134.83M585.65 120.66L587.2 112.64M591.48 109.84L592.37 106.86M594.31 106.84L595.04 109.06M596.51 115.27L598.34 127.83M602.26 131.28L603.59 125.52M613.25 116.98L614.6 110.92" fill="none" stroke="#000" stroke-width="0.85"/>
<g fill="none" stroke="#0e7373" stroke-width="1.0">
<circle cx="530.05" cy="180.8" r="1.75"/>
<circle cx="532.8" cy="110.1" r="1.75"/>
<circle cx="535.55" cy="102.3" r="1.75"/>
<circle cx="538.3" cy="111.5" r="1.75"/>
<circle cx="541.05" cy="108.1" r="1.75"/>
<circle cx="543.8" cy="113.5" r="1.75"/>
<circle cx="546.55" cy="109.5" r="1.75"/>
<circle cx="549.3" cy="112.1" r="1.75"/>
<circle cx="552.05" cy="112.9" r="1.75"/>
<circle cx="554.8" cy="107.2" r="1.75"/>
<circle cx="557.55" cy="115.2" r="1.75"/>
<circle cx="560.3" cy="115.8" r="1.75"/>
<circle cx="563.05" cy="108.6" r="1.75"/>
<circle cx="565.8" cy="133" r="1.75"/>
<circle cx="568.55" cy="128.7" r="1.75"/>
<circle cx="571.3" cy="137.9" r="1.75"/>
<circle cx="574.05" cy="138.7" r="1.75"/>
<circle cx="576.8" cy="139.6" r="1.75"/>
<circle cx="579.55" cy="135.3" r="1.75"/>
<circle cx="582.3" cy="129.5" r="1.75"/>
<circle cx="585.05" cy="123.8" r="1.75"/>
<circle cx="587.8" cy="109.5" r="1.75"/>
<circle cx="590.55" cy="112.9" r="1.75"/>
<circle cx="593.3" cy="103.8" r="1.75"/>
<circle cx="596.05" cy="112.1" r="1.75"/>
<circle cx="598.8" cy="131" r="1.75"/>
<circle cx="601.55" cy="134.4" r="1.75"/>
<circle cx="604.3" cy="122.4" r="1.75"/>
<circle cx="607.05" cy="123" r="1.75"/>
<circle cx="609.8" cy="123" r="1.75"/>
<circle cx="612.55" cy="120.1" r="1.75"/>
<circle cx="615.3" cy="107.8" r="1.75"/>
<circle cx="618.05" cy="109.5" r="1.75"/>
<circle cx="620.8" cy="109.5" r="1.75"/>
<circle cx="623.55" cy="107.2" r="1.75"/>
<circle cx="626.3" cy="106.6" r="1.75"/>
<circle cx="629.05" cy="106.6" r="1.75"/>
<circle cx="631.8" cy="106.6" r="1.75"/>
<circle cx="634.55" cy="106.6" r="1.75"/>
<circle cx="637.3" cy="106.6" r="1.75"/>
<circle cx="640.05" cy="106.6" r="1.75"/>
<circle cx="642.8" cy="106.6" r="1.75"/>
<circle cx="645.55" cy="106.6" r="1.75"/>
<circle cx="648.3" cy="106.6" r="1.75"/>
<circle cx="651.05" cy="106.6" r="1.75"/>
<circle cx="653.8" cy="106.6" r="1.75"/>
<circle cx="656.55" cy="106.6" r="1.75"/>
<circle cx="659.3" cy="106.6" r="1.75"/>
<circle cx="662.05" cy="106.6" r="1.75"/>
<circle cx="664.8" cy="106.6" r="1.75"/>
</g>
<line x1="521" y1="105.7" x2="522.5" y2="105.7" stroke="#000" stroke-width="0.7"/>
<text x="517.5" y="107.2" font-size="4.3" text-anchor="end" font-weight="bold" fill="#222">1x10</text>
<text x="517.6" y="105.1" font-size="2.8" font-weight="bold" fill="#222">2</text>
<line x1="521" y1="128.9" x2="522.5" y2="128.9" stroke="#000" stroke-width="0.7"/>
<text x="517.5" y="130.4" font-size="4.3" text-anchor="end" font-weight="bold" fill="#222">9x10</text>
<text x="517.6" y="128.3" font-size="2.8" font-weight="bold" fill="#222">1</text>
<line x1="521" y1="152.1" x2="522.5" y2="152.1" stroke="#000" stroke-width="0.7"/>
<text x="517.5" y="153.6" font-size="4.3" text-anchor="end" font-weight="bold" fill="#222">8x10</text>
<text x="517.6" y="151.5" font-size="2.8" font-weight="bold" fill="#222">1</text>
<line x1="521" y1="175.3" x2="522.5" y2="175.3" stroke="#000" stroke-width="0.7"/>
<text x="517.5" y="176.8" font-size="4.3" text-anchor="end" font-weight="bold" fill="#222">7x10</text>
<text x="517.6" y="174.7" font-size="2.8" font-weight="bold" fill="#222">1</text>
<line x1="527.3" y1="187.3" x2="527.3" y2="188.9" stroke="#000" stroke-width="0.7"/>
<text x="527.3" y="195.5" font-size="4.8" text-anchor="middle" font-weight="bold" fill="#222">0</text>
<line x1="582.3" y1="187.3" x2="582.3" y2="188.9" stroke="#000" stroke-width="0.7"/>
<text x="582.3" y="195.5" font-size="4.8" text-anchor="middle" font-weight="bold" fill="#222">20</text>
<line x1="637.3" y1="187.3" x2="637.3" y2="188.9" stroke="#000" stroke-width="0.7"/>
<text x="637.3" y="195.5" font-size="4.8" text-anchor="middle" font-weight="bold" fill="#222">40</text>
<text x="608.3" y="177.6" font-size="10.3" text-anchor="start" font-weight="normal" fill="#000" textLength="61.6" lengthAdjust="spacingAndGlyphs">Power: 200W</text>
<text x="596.8" y="203.9" font-size="6.7" text-anchor="middle" fill="#111" stroke="#111" stroke-width="0.15">Cycle Number</text>
<text transform="translate(502.6,177.7) rotate(-90)" font-size="6.3" textLength="75" lengthAdjust="spacingAndGlyphs" fill="#111" stroke="#111" stroke-width="0.22">Coulombic Efficiency (%)</text>
<line x1="188.5" y1="337.5" x2="188.5" y2="429.7" stroke="#000" stroke-width="0.9"/>
<line x1="188.1" y1="429.2" x2="344.5" y2="429.2" stroke="#000" stroke-width="0.9"/>
<path d="M197.32 419.21L199.68 378.89M200.43 372.55L202.05 363.35M211.66 360.38L212.69 364.12" fill="none" stroke="#000" stroke-width="0.85"/>
<g fill="none" stroke="#0e7373" stroke-width="1.0">
<circle cx="197.14" cy="422.4" r="1.75"/>
<circle cx="199.87" cy="375.7" r="1.75"/>
<circle cx="202.61" cy="360.2" r="1.75"/>
<circle cx="205.34" cy="357.9" r="1.75"/>
<circle cx="208.08" cy="360.2" r="1.75"/>
<circle cx="210.81" cy="357.3" r="1.75"/>
<circle cx="213.55" cy="367.2" r="1.75"/>
<circle cx="216.28" cy="365.8" r="1.75"/>
<circle cx="219.02" cy="365.8" r="1.75"/>
<circle cx="221.75" cy="365.8" r="1.75"/>
<circle cx="224.49" cy="366.4" r="1.75"/>
<circle cx="227.22" cy="367.2" r="1.75"/>
<circle cx="229.96" cy="365.2" r="1.75"/>
<circle cx="232.69" cy="367.8" r="1.75"/>
<circle cx="235.43" cy="365.8" r="1.75"/>
<circle cx="238.16" cy="363.5" r="1.75"/>
<circle cx="240.9" cy="363.5" r="1.75"/>
<circle cx="243.63" cy="366.4" r="1.75"/>
<circle cx="246.37" cy="367.2" r="1.75"/>
<circle cx="249.1" cy="365.8" r="1.75"/>
<circle cx="251.84" cy="362.2" r="1.75"/>
<circle cx="254.57" cy="358.5" r="1.75"/>
<circle cx="257.31" cy="359.9" r="1.75"/>
<circle cx="260.04" cy="359.9" r="1.75"/>
<circle cx="262.77" cy="359.4" r="1.75"/>
<circle cx="265.51" cy="359.9" r="1.75"/>
<circle cx="268.25" cy="362.2" r="1.75"/>
<circle cx="270.98" cy="363.7" r="1.75"/>
<circle cx="273.72" cy="366.5" r="1.75"/>
<circle cx="276.45" cy="362.2" r="1.75"/>
<circle cx="279.19" cy="361.6" r="1.75"/>
<circle cx="281.92" cy="361.6" r="1.75"/>
<circle cx="284.65" cy="361.4" r="1.75"/>
<circle cx="287.39" cy="359.9" r="1.75"/>
<circle cx="290.12" cy="357.3" r="1.75"/>
<circle cx="292.86" cy="356.5" r="1.75"/>
<circle cx="295.6" cy="356.5" r="1.75"/>
<circle cx="298.33" cy="356.5" r="1.75"/>
<circle cx="301.06" cy="357.3" r="1.75"/>
<circle cx="303.8" cy="357.3" r="1.75"/>
<circle cx="306.53" cy="357.9" r="1.75"/>
<circle cx="309.27" cy="357.3" r="1.75"/>
<circle cx="312" cy="356.5" r="1.75"/>
<circle cx="314.74" cy="357.3" r="1.75"/>
<circle cx="317.48" cy="355.1" r="1.75"/>
<circle cx="320.21" cy="355.6" r="1.75"/>
<circle cx="322.94" cy="353.1" r="1.75"/>
<circle cx="325.68" cy="353.1" r="1.75"/>
<circle cx="328.41" cy="351.6" r="1.75"/>
<circle cx="331.15" cy="352.8" r="1.75"/>
</g>
<line x1="187" y1="345.9" x2="188.5" y2="345.9" stroke="#000" stroke-width="0.7"/>
<text x="183.5" y="347.4" font-size="4.3" text-anchor="end" font-weight="bold" fill="#222">1.0x10</text>
<text x="183.6" y="345.3" font-size="2.8" font-weight="bold" fill="#222">2</text>
<line x1="187" y1="386.9" x2="188.5" y2="386.9" stroke="#000" stroke-width="0.7"/>
<text x="183.5" y="388.4" font-size="4.3" text-anchor="end" font-weight="bold" fill="#222">8.0x10</text>
<text x="183.6" y="386.3" font-size="2.8" font-weight="bold" fill="#222">1</text>
<line x1="187" y1="427.9" x2="188.5" y2="427.9" stroke="#000" stroke-width="0.7"/>
<text x="183.5" y="429.4" font-size="4.3" text-anchor="end" font-weight="bold" fill="#222">6.0x10</text>
<text x="183.6" y="427.3" font-size="2.8" font-weight="bold" fill="#222">1</text>
<line x1="194.4" y1="429.2" x2="194.4" y2="430.8" stroke="#000" stroke-width="0.7"/>
<text x="194.4" y="437.4" font-size="4.8" text-anchor="middle" font-weight="bold" fill="#222">0</text>
<line x1="221.75" y1="429.2" x2="221.75" y2="430.8" stroke="#000" stroke-width="0.7"/>
<text x="221.75" y="437.4" font-size="4.8" text-anchor="middle" font-weight="bold" fill="#222">10</text>
<line x1="249.1" y1="429.2" x2="249.1" y2="430.8" stroke="#000" stroke-width="0.7"/>
<text x="249.1" y="437.4" font-size="4.8" text-anchor="middle" font-weight="bold" fill="#222">20</text>
<line x1="276.45" y1="429.2" x2="276.45" y2="430.8" stroke="#000" stroke-width="0.7"/>
<text x="276.45" y="437.4" font-size="4.8" text-anchor="middle" font-weight="bold" fill="#222">30</text>
<line x1="303.8" y1="429.2" x2="303.8" y2="430.8" stroke="#000" stroke-width="0.7"/>
<text x="303.8" y="437.4" font-size="4.8" text-anchor="middle" font-weight="bold" fill="#222">40</text>
<line x1="331.15" y1="429.2" x2="331.15" y2="430.8" stroke="#000" stroke-width="0.7"/>
<text x="331.15" y="437.4" font-size="4.8" text-anchor="middle" font-weight="bold" fill="#222">50</text>
<text x="279.9" y="416.3" font-size="10.3" text-anchor="start" font-weight="normal" fill="#000" textLength="61.6" lengthAdjust="spacingAndGlyphs">Power: 300W</text>
<text x="264.3" y="446" font-size="6.7" text-anchor="middle" fill="#111" stroke="#111" stroke-width="0.15">Cycle Number</text>
<text transform="translate(166.6,419.5) rotate(-90)" font-size="6.3" textLength="76" lengthAdjust="spacingAndGlyphs" fill="#111" stroke="#111" stroke-width="0.22">Coulombic Efficiency (%)</text>
<line x1="522.5" y1="337.5" x2="522.5" y2="429.6" stroke="#000" stroke-width="0.9"/>
<line x1="522.1" y1="429.1" x2="677.5" y2="429.1" stroke="#000" stroke-width="0.9"/>
<path d="M537.07 416.9L539.29 371.2M539.99 364.85L541.41 356.75M552.56 355.96L554.04 364.84M555.06 364.84L556.58 355.36M560.34 357.61L561.38 361.99M565.7 362.08L566.1 360.92M577.73 358.76L579.27 368.54M580.82 368.68L581.22 367.52M610.59 369.05L611.93 376.25M613.52 376.36L614.04 374.74M616.18 368.71L616.42 368.09M620.9 361.41L621.78 358.09M623.49 358.07L624.23 360.63M625.67 360.55L627.09 352.45M630.9 357.61L631.94 361.99M638.57 359.71L639.39 356.69" fill="none" stroke="#000" stroke-width="0.85"/>
<g fill="none" stroke="#0e7373" stroke-width="1.0">
<circle cx="536.92" cy="420.1" r="1.75"/>
<circle cx="539.44" cy="368" r="1.75"/>
<circle cx="541.96" cy="353.6" r="1.75"/>
<circle cx="544.48" cy="353.6" r="1.75"/>
<circle cx="547" cy="354.5" r="1.75"/>
<circle cx="549.52" cy="355.6" r="1.75"/>
<circle cx="552.04" cy="352.8" r="1.75"/>
<circle cx="554.56" cy="368" r="1.75"/>
<circle cx="557.08" cy="352.2" r="1.75"/>
<circle cx="559.6" cy="354.5" r="1.75"/>
<circle cx="562.12" cy="365.1" r="1.75"/>
<circle cx="564.64" cy="365.1" r="1.75"/>
<circle cx="567.16" cy="357.9" r="1.75"/>
<circle cx="569.68" cy="354.5" r="1.75"/>
<circle cx="572.2" cy="354.2" r="1.75"/>
<circle cx="574.72" cy="351.3" r="1.75"/>
<circle cx="577.24" cy="355.6" r="1.75"/>
<circle cx="579.76" cy="371.7" r="1.75"/>
<circle cx="582.28" cy="364.5" r="1.75"/>
<circle cx="584.8" cy="368.8" r="1.75"/>
<circle cx="587.32" cy="365.1" r="1.75"/>
<circle cx="589.84" cy="367.1" r="1.75"/>
<circle cx="592.36" cy="369.4" r="1.75"/>
<circle cx="594.88" cy="364.5" r="1.75"/>
<circle cx="597.4" cy="365.1" r="1.75"/>
<circle cx="599.92" cy="362.8" r="1.75"/>
<circle cx="602.44" cy="365.1" r="1.75"/>
<circle cx="604.96" cy="362.8" r="1.75"/>
<circle cx="607.48" cy="361.4" r="1.75"/>
<circle cx="610" cy="365.9" r="1.75"/>
<circle cx="612.52" cy="379.4" r="1.75"/>
<circle cx="615.04" cy="371.7" r="1.75"/>
<circle cx="617.56" cy="365.1" r="1.75"/>
<circle cx="620.08" cy="364.5" r="1.75"/>
<circle cx="622.6" cy="355" r="1.75"/>
<circle cx="625.12" cy="363.7" r="1.75"/>
<circle cx="627.64" cy="349.3" r="1.75"/>
<circle cx="630.16" cy="354.5" r="1.75"/>
<circle cx="632.68" cy="365.1" r="1.75"/>
<circle cx="635.2" cy="367.1" r="1.75"/>
<circle cx="637.72" cy="362.8" r="1.75"/>
<circle cx="640.24" cy="353.6" r="1.75"/>
<circle cx="642.76" cy="353" r="1.75"/>
<circle cx="645.28" cy="352.8" r="1.75"/>
<circle cx="647.8" cy="352.8" r="1.75"/>
<circle cx="650.32" cy="352.2" r="1.75"/>
<circle cx="652.84" cy="351.6" r="1.75"/>
<circle cx="655.36" cy="351.6" r="1.75"/>
<circle cx="657.88" cy="351.6" r="1.75"/>
<circle cx="660.4" cy="351.6" r="1.75"/>
</g>
<line x1="521" y1="340.7" x2="522.5" y2="340.7" stroke="#000" stroke-width="0.7"/>
<text x="517.5" y="342.2" font-size="4.3" text-anchor="end" font-weight="bold" fill="#222">1x10</text>
<text x="517.6" y="340.1" font-size="2.8" font-weight="bold" fill="#222">2</text>
<line x1="521" y1="366.2" x2="522.5" y2="366.2" stroke="#000" stroke-width="0.7"/>
<text x="517.5" y="367.7" font-size="4.3" text-anchor="end" font-weight="bold" fill="#222">9x10</text>
<text x="517.6" y="365.6" font-size="2.8" font-weight="bold" fill="#222">1</text>
<line x1="521" y1="391.7" x2="522.5" y2="391.7" stroke="#000" stroke-width="0.7"/>
<text x="517.5" y="393.2" font-size="4.3" text-anchor="end" font-weight="bold" fill="#222">8x10</text>
<text x="517.6" y="391.1" font-size="2.8" font-weight="bold" fill="#222">1</text>
<line x1="521" y1="417.2" x2="522.5" y2="417.2" stroke="#000" stroke-width="0.7"/>
<text x="517.5" y="418.7" font-size="4.3" text-anchor="end" font-weight="bold" fill="#222">7x10</text>
<text x="517.6" y="416.6" font-size="2.8" font-weight="bold" fill="#222">1</text>
<line x1="534.4" y1="429.1" x2="534.4" y2="430.7" stroke="#000" stroke-width="0.7"/>
<text x="534.4" y="437.3" font-size="4.8" text-anchor="middle" font-weight="bold" fill="#222">0</text>
<line x1="559.6" y1="429.1" x2="559.6" y2="430.7" stroke="#000" stroke-width="0.7"/>
<text x="559.6" y="437.3" font-size="4.8" text-anchor="middle" font-weight="bold" fill="#222">10</text>
<line x1="584.8" y1="429.1" x2="584.8" y2="430.7" stroke="#000" stroke-width="0.7"/>
<text x="584.8" y="437.3" font-size="4.8" text-anchor="middle" font-weight="bold" fill="#222">20</text>
<line x1="610" y1="429.1" x2="610" y2="430.7" stroke="#000" stroke-width="0.7"/>
<text x="610" y="437.3" font-size="4.8" text-anchor="middle" font-weight="bold" fill="#222">30</text>
<line x1="635.2" y1="429.1" x2="635.2" y2="430.7" stroke="#000" stroke-width="0.7"/>
<text x="635.2" y="437.3" font-size="4.8" text-anchor="middle" font-weight="bold" fill="#222">40</text>
<line x1="660.4" y1="429.1" x2="660.4" y2="430.7" stroke="#000" stroke-width="0.7"/>
<text x="660.4" y="437.3" font-size="4.8" text-anchor="middle" font-weight="bold" fill="#222">50</text>
<text x="612" y="416.3" font-size="10.3" text-anchor="start" font-weight="normal" fill="#000" textLength="61.6" lengthAdjust="spacingAndGlyphs">Power: 400W</text>
<text x="596.8" y="446.6" font-size="6.7" text-anchor="middle" fill="#111" stroke="#111" stroke-width="0.15">Cycle Number</text>
<text transform="translate(502.9,419.7) rotate(-90)" font-size="6.3" textLength="74" lengthAdjust="spacingAndGlyphs" fill="#111" stroke="#111" stroke-width="0.22">Coulombic Efficiency (%)</text>
</svg></body></html>
